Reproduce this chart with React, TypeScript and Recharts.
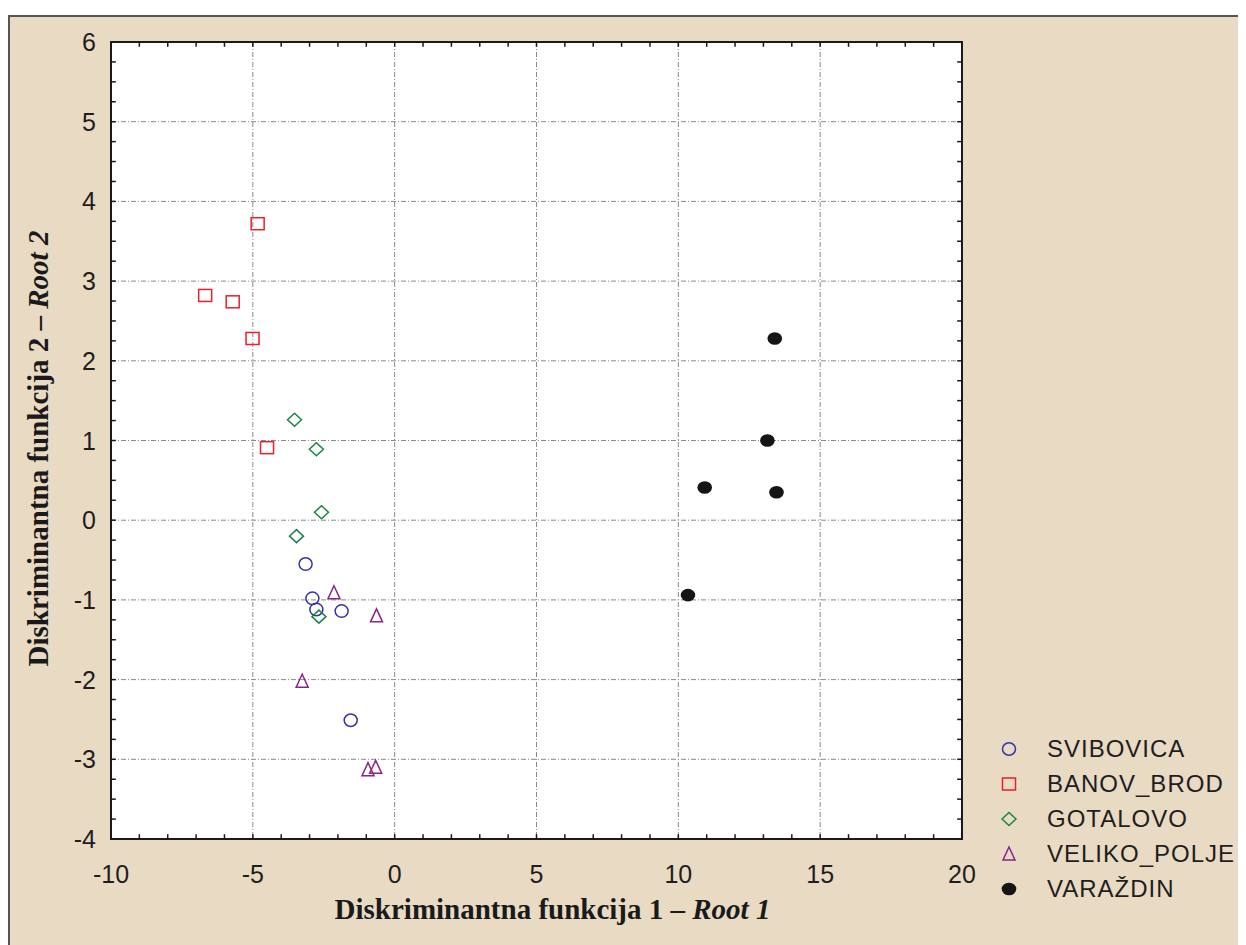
import { CartesianGrid, ReferenceArea, ReferenceLine, Scatter, ScatterChart, XAxis, YAxis } from 'recharts';

type Pt = { x: number, y: number };

const svibovica: Pt[] = [
  { x: -3.14, y: -0.55 },
  { x: -2.9, y: -0.98 },
  { x: -2.76, y: -1.12 },
  { x: -1.87, y: -1.14 },
  { x: -1.55, y: -2.51 },
];
const banovBrod: Pt[] = [
  { x: -4.83, y: 3.72 },
  { x: -6.68, y: 2.82 },
  { x: -5.71, y: 2.74 },
  { x: -5.01, y: 2.28 },
  { x: -4.5, y: 0.91 },
];
const gotalovo: Pt[] = [
  { x: -3.53, y: 1.26 },
  { x: -2.76, y: 0.89 },
  { x: -2.58, y: 0.1 },
  { x: -3.46, y: -0.2 },
  { x: -2.67, y: -1.21 },
];
const velikoPolje: Pt[] = [
  { x: -2.14, y: -0.91 },
  { x: -0.64, y: -1.2 },
  { x: -3.26, y: -2.02 },
  { x: -0.94, y: -3.13 },
  { x: -0.67, y: -3.1 },
];
const varazdin: Pt[] = [
  { x: 13.4, y: 2.28 },
  { x: 13.14, y: 1.0 },
  { x: 10.93, y: 0.41 },
  { x: 13.46, y: 0.35 },
  { x: 10.34, y: -0.94 },
];

const xTicks = [-10, -5, 0, 5, 10, 15, 20];
const yTicks = [-4, -3, -2, -1, 0, 1, 2, 3, 4, 5, 6];
// minor tick marks: every 1 on x, every 0.25 on y
const xMinor = Array.from({ length: 29 }, (_, i) => -9 + i);
const yMinor = Array.from({ length: 39 }, (_, i) => -3.75 + i * 0.25);

const BG = '#e9dac4';
const FONT = '"Liberation Sans", Arial, sans-serif';
const SERIF = '"Liberation Serif", "Times New Roman", serif';
const TICK_DX = 0.17;
const TICK_DY = 0.06;

const marker = (kind: string, cx: number, cy: number) => {
  switch (kind) {
    case 'circle':
      return <ellipse cx={cx} cy={cy} rx={6.5} ry={6.2} fill="none" stroke="#3434a4" strokeWidth={1.5} />;
    case 'square':
      return <rect x={cx - 6.5} y={cy - 6} width={13} height={12} fill="none" stroke="#e8202a" strokeWidth={1.5} />;
    case 'diamond':
      return <polygon points={`${cx},${cy - 6.5} ${cx + 7},${cy} ${cx},${cy + 6.5} ${cx - 7},${cy}`} fill="none" stroke="#1b8446" strokeWidth={1.5} />;
    case 'triangle':
      return <polygon points={`${cx},${cy - 7} ${cx + 6},${cy + 6} ${cx - 6},${cy + 6}`} fill="none" stroke="#88248c" strokeWidth={1.5} />;
    default:
      return <ellipse cx={cx} cy={cy} rx={7.3} ry={6.3} fill="#151515" />;
  }
};

const series = [
  { name: 'SVIBOVICA', data: svibovica, kind: 'circle' },
  { name: 'BANOV_BROD', data: banovBrod, kind: 'square' },
  { name: 'GOTALOVO', data: gotalovo, kind: 'diamond' },
  { name: 'VELIKO_POLJE', data: velikoPolje, kind: 'triangle' },
  { name: 'VARAŽDIN', data: varazdin, kind: 'dot' },
];

const XTitle = (props: any) => {
  const vb = props.viewBox;
  return (
    <text x={vb.x + vb.width / 2 + 16} y={vb.y + 80} textAnchor="middle" fontFamily={SERIF} fontWeight="bold" fontSize={29} fill="#1a1a1a">
      Diskriminantna funkcija 1 – <tspan fontStyle="italic">Root 1</tspan>
    </text>
  );
};

const YTitle = (props: any) => {
  const vb = props.viewBox;
  const x = 40;
  const y = vb.y + vb.height / 2 + 8;
  return (
    <text x={x} y={y} transform={`rotate(-90, ${x}, ${y})`} textAnchor="middle" fontFamily={SERIF} fontWeight="bold" fontSize={29} fill="#1a1a1a">
      Diskriminantna funkcija 2 – <tspan fontStyle="italic">Root 2</tspan>
    </text>
  );
};

const XTick = (p: any) => (
  <text x={p.x} y={p.y} dy="0.71em" textAnchor="middle" fontFamily={FONT} fontSize={25} fill="#1e1e1e">
    {p.payload.value}
  </text>
);

const YTick = (p: any) => (
  <text x={p.x} y={p.y} dy="0.36em" textAnchor="end" fontFamily={FONT} fontSize={25} fill="#1e1e1e">
    {p.payload.value}
  </text>
);

const tickStroke = { stroke: '#1a1a1a', strokeWidth: 1.5 };

export default function App() {
  return (
    <div style={{ position: 'relative', width: 1238, height: 937, background: '#fff' }}>
      <div style={{ position: 'absolute', top: 7, left: 0, width: 1238, height: 930, background: BG, borderTop: '2px solid #555', borderLeft: '2px solid #555', boxSizing: 'border-box' }} />
      <div style={{ position: 'absolute', top: 9, left: 0 }}>
        <ScatterChart width={1238} height={928} margin={{ top: 25, right: 284, bottom: 46, left: 43 }}>
          <CartesianGrid fill="#fff" stroke="#8a8a8a" strokeDasharray="5 2 1 2" strokeWidth={1} />
          <XAxis type="number" dataKey="x" domain={[-10, 20]} ticks={xTicks} interval={0} height={60}
            tick={<XTick />} tickLine={false} tickSize={10} tickMargin={16}
            axisLine={{ stroke: '#1a1a1a', strokeWidth: 2 }} label={<XTitle />} />
          <YAxis type="number" dataKey="y" domain={[-4, 6]} ticks={yTicks} interval={0} width={60}
            tick={<YTick />} tickLine={false} tickSize={5} tickMargin={10}
            axisLine={{ stroke: '#1a1a1a', strokeWidth: 2 }} label={<YTitle />} />
          {xMinor.map((v) => (
            <ReferenceLine key={'xb' + v} segment={[{ x: v, y: -4 }, { x: v, y: -4 + TICK_DY }]} {...tickStroke} />
          ))}
          {xMinor.map((v) => (
            <ReferenceLine key={'xt' + v} segment={[{ x: v, y: 6 }, { x: v, y: 6 - TICK_DY }]} {...tickStroke} />
          ))}
          {yMinor.map((v) => (
            <ReferenceLine key={'yl' + v} segment={[{ x: -10, y: v }, { x: -10 + TICK_DX, y: v }]} {...tickStroke} />
          ))}
          {yMinor.map((v) => (
            <ReferenceLine key={'yr' + v} segment={[{ x: 20, y: v }, { x: 20 - TICK_DX, y: v }]} {...tickStroke} />
          ))}
          <ReferenceArea x1={-10} x2={20} y1={-4} y2={6} fill="none" fillOpacity={0} stroke="#1a1a1a" strokeWidth={2} />
          {series.map((s) => (
            <Scatter key={s.name} name={s.name} data={s.data} isAnimationActive={false}
              shape={(p: any) => marker(s.kind, p.cx, p.cy)} />
          ))}
        </ScatterChart>
      </div>
      <div style={{ position: 'absolute', left: 990, top: 724, fontFamily: FONT, fontSize: 24, letterSpacing: 1, color: '#1e1e1e' }}>
        {series.map((s) => (
          <div key={s.name} style={{ display: 'flex', alignItems: 'center', height: 34.8 }}>
            <svg width={24} height={20} style={{ marginRight: 25 }}>{marker(s.kind, 11, 10)}</svg>
            <span>{s.name}</span>
          </div>
        ))}
      </div>
    </div>
  );
}
